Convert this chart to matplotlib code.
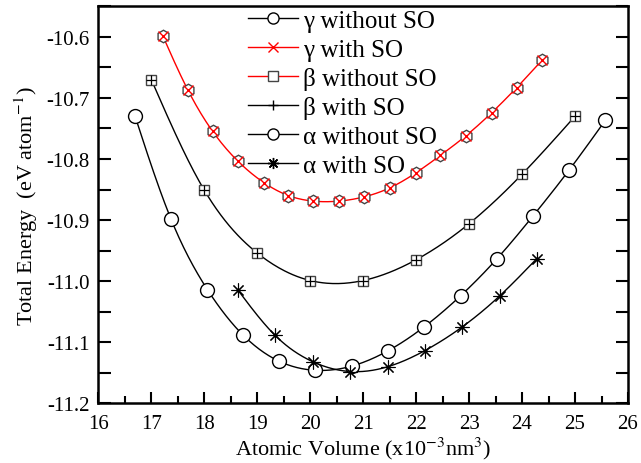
import numpy as np
import matplotlib
matplotlib.use("Agg")
import matplotlib.pyplot as plt
from matplotlib.ticker import MultipleLocator, FormatStrFormatter

plt.rcParams['font.family'] = ['Liberation Serif', 'DejaVu Serif']
plt.rcParams['axes.unicode_minus'] = False
plt.rcParams['mathtext.fontset'] = 'stix'

# Atomic volume (x10^-3 nm^3) and total energy (eV/atom) per phase
gamma_vol = [17.22, 17.69, 18.16, 18.64, 19.13, 19.59, 20.06, 20.54,
             21.02, 21.51, 21.99, 22.46, 22.94, 23.43, 23.90, 24.38]
gamma_e = [-10.599, -10.687, -10.755, -10.804, -10.839, -10.860, -10.869, -10.869,
           -10.862, -10.847, -10.823, -10.794, -10.762, -10.724, -10.683, -10.638]

beta_vol = [17.0, 18.0, 19.0, 20.0, 21.0, 22.0, 23.0, 24.0, 25.0]
beta_e = [-10.670, -10.851, -10.954, -10.999, -10.999, -10.965, -10.906, -10.825, -10.730]

alpha_vol = [16.69, 17.37, 18.06, 18.74, 19.41, 20.10, 20.79,
             21.47, 22.15, 22.84, 23.53, 24.21, 24.89, 25.57]
alpha_e = [-10.729, -10.898, -11.014, -11.089, -11.131, -11.146, -11.139,
           -11.114, -11.075, -11.024, -10.963, -10.893, -10.818, -10.737]

alpha_so_vol = [18.63, 19.34, 20.05, 20.76, 21.47, 22.16, 22.87, 23.58, 24.28]
alpha_so_e = [-11.014, -11.089, -11.132, -11.148, -11.140, -11.114, -11.075, -11.024, -10.963]


def spline(x, y, n=300):
    """Natural cubic spline through the points, for drawing smooth curves."""
    x = np.asarray(x, float)
    y = np.asarray(y, float)
    k = len(x)
    h = np.diff(x)
    A = np.zeros((k, k))
    r = np.zeros(k)
    A[0, 0] = A[-1, -1] = 1.0
    for i in range(1, k - 1):
        A[i, i - 1] = h[i - 1]
        A[i, i] = 2 * (h[i - 1] + h[i])
        A[i, i + 1] = h[i]
        r[i] = 6 * ((y[i + 1] - y[i]) / h[i] - (y[i] - y[i - 1]) / h[i - 1])
    M = np.linalg.solve(A, r)
    xs = np.linspace(x[0], x[-1], n)
    idx = np.clip(np.searchsorted(x, xs) - 1, 0, k - 2)
    x0, x1 = x[idx], x[idx + 1]
    hh = x1 - x0
    a = (x1 - xs) / hh
    b = (xs - x0) / hh
    ys = (a * y[idx] + b * y[idx + 1]
          + ((a ** 3 - a) * M[idx] + (b ** 3 - b) * M[idx + 1]) * hh ** 2 / 6)
    return xs, ys


fig = plt.figure(figsize=(6.41, 4.64), dpi=100)
ax = fig.add_axes([0.1534, 0.1287, 0.8263, 0.8556])

gray = '#444444'

# smooth curves
xs, ys = spline(gamma_vol, gamma_e)
ax.plot(xs, ys, color='red', lw=1.0, zorder=2)
xs, ys = spline(beta_vol, beta_e)
ax.plot(xs, ys, color='black', lw=1.0, zorder=2)
xs, ys = spline(alpha_vol, alpha_e)
ax.plot(xs, ys, color='black', lw=1.0, zorder=2)
xs, ys = spline(alpha_so_vol, alpha_so_e)
ax.plot(xs, ys, color='black', lw=1.0, zorder=2)

# markers
ax.plot(gamma_vol, gamma_e, ls='none', marker='h', ms=9, mfc='white', mec=gray, mew=1.0, zorder=3)
ax.plot(gamma_vol, gamma_e, ls='none', marker='x', ms=7, mec='red', mew=1.0, zorder=4)
ax.plot(beta_vol, beta_e, ls='none', marker='s', ms=7, mfc='white', mec=gray, mew=1.0, zorder=3)
ax.plot(beta_vol, beta_e, ls='none', marker='+', ms=7, mec='black', mew=0.9, zorder=4)
ax.plot(alpha_vol, alpha_e, ls='none', marker='o', ms=10, mfc='white', mec='black', mew=1.0, zorder=3)
ax.plot(alpha_so_vol, alpha_so_e, ls='none', marker=(8, 2, 0), ms=10, mec='black', mew=0.8, zorder=3)

# legend entries
handles = [
    ax.plot([], [], color='black', lw=1.0, marker='o', ms=8, mfc='white', mec='black')[0],
    ax.plot([], [], color='red', lw=1.0, marker='x', ms=7, mec='red')[0],
    ax.plot([], [], color='red', lw=1.0, marker='s', ms=7, mfc='white', mec=gray)[0],
    ax.plot([], [], color='black', lw=1.0, marker='+', ms=7, mec='black')[0],
    ax.plot([], [], color='black', lw=1.0, marker='o', ms=8, mfc='white', mec='black')[0],
    ax.plot([], [], color='black', lw=1.0, marker=(8, 2, 0), ms=8, mec='black')[0],
]
labels = ['γ without SO', 'γ with SO', 'β without SO',
          'β with SO', 'α without SO', 'α with SO']
ax.legend(handles, labels, loc='upper left', bbox_to_anchor=(0.2496, 1.036),
          frameon=False, fontsize=18, handlelength=2.0, handletextpad=0.2,
          labelspacing=0.25, borderpad=0.2)

ax.set_xlim(16, 26)
ax.set_ylim(-11.2, -10.55)
ax.xaxis.set_major_locator(MultipleLocator(1))
ax.xaxis.set_minor_locator(MultipleLocator(0.5))
ax.yaxis.set_major_locator(MultipleLocator(0.1))
ax.yaxis.set_minor_locator(MultipleLocator(0.05))
ax.yaxis.set_major_formatter(FormatStrFormatter('%.1f'))

ax.tick_params(which='both', direction='in', top=False, right=True, labelsize=15, width=1.5)
ax.tick_params(axis='x', which='major', length=8, pad=8)
ax.tick_params(axis='x', which='minor', length=5)
ax.tick_params(axis='y', which='both', length=9, pad=6)
for s in ax.spines.values():
    s.set_linewidth(1.8)

ax.set_xlabel('Atomic Volume (x10$^{-3}$nm$^{3}$)', fontsize=16, labelpad=1)
ax.set_ylabel('Total Energy  (eV atom$^{-1}$)', fontsize=16, labelpad=5)

fig.savefig('out.png', dpi=100)
